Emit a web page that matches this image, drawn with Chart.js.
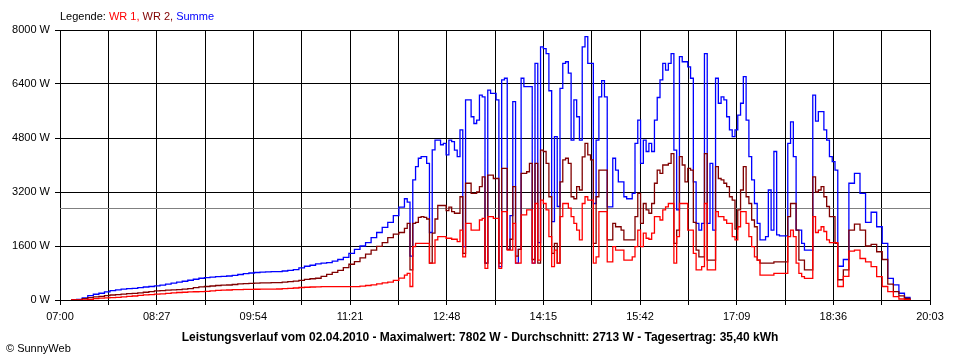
<!DOCTYPE html>
<html>
<head>
<meta charset="utf-8">
<script src="https://cdn.jsdelivr.net/npm/chart.js@4.4.0/dist/chart.umd.min.js"></script>
<style>
  html, body { margin: 0; padding: 0; background: #fff; }
</style>
</head>
<body>
<canvas id="powerChart" width="960" height="360"></canvas>
<script>
// sample times in minutes after 07:00: [from, to, step]
// the logger is read more densely while clouds pass (10:10 .. 18:40)
const sampleSegments = [
    [10, 305, 5],
    [310, 700, 2.5],
    [705, 765, 5],
];
const dayStart = 7 * 60;
const dayLength = 783;   // 07:00 .. 20:03
const gridStep = 43.5;   // 19 vertical lines, every other one labelled

const yTicks = [0, 1600, 3200, 4800, 6400, 8000];
const averageW = 2713;

const legendParts = [
    ['Legende: ', '#000000'],
    ['WR 1, ', '#ff0000'],
    ['WR 2, ', '#800000'],
    ['Summe', '#0000ff'],
];
const footerText = 'Leistungsverlauf vom 02.04.2010 - Maximalwert: 7802 W - Durchschnitt: 2713 W - Tagesertrag: 35,40 kWh';
const copyrightText = '\u00A9 SunnyWeb';

const wr1 = [
    // 07:10 .. 12:05, every 5 min
    0, 0, 0, 20, 40, 55, 65, 69, 80, 95,
    110, 119, 135, 150, 160, 175, 180, 195, 210, 222,
    230, 240, 245, 248, 255, 270, 285, 295, 296, 305,
    310, 316, 316, 318, 320, 322, 324, 326, 335, 345,
    355, 370, 378, 385, 390, 395, 395, 395, 395, 395,
    395, 395, 410, 430, 450, 480, 505, 530, 580, 650,
    // 12:10 .. 18:40, every 2.5 min
    740, 790, 400, 1580, 1680, 1680, 1680, 1680, 1680, 1090,
    1090, 1780, 1880, 1880, 1880, 1830, 1830, 1800, 1800, 1730,
    2070, 1280, 2270, 2270, 2070, 2070, 2070, 2370, 2420, 940,
    2470, 2470, 2420, 2420, 940, 2620, 2620, 1480, 1480, 2270,
    1090, 1090, 2520, 2520, 2670, 2670, 1090, 2860, 1180, 2960,
    2860, 2670, 1880, 990, 1480, 1090, 2470, 2860, 2860, 2720,
    2470, 2270, 2070, 1780, 2860, 3060, 2960, 2960, 1090, 1280,
    2620, 2620, 2620, 1130, 1130, 1580, 1480, 1480, 1480, 1180,
    1180, 1180, 1280, 1580, 2070, 1580, 1980, 1830, 1800, 1980,
    2470, 2470, 2370, 2670, 2760, 2860, 2860, 1090, 1880, 2860,
    2860, 2860, 2070, 2070, 1380, 890, 890, 990, 2860, 890,
    890, 890, 2620, 2470, 2470, 2370, 2270, 2270, 1880, 1780,
    2170, 2620, 2620, 2270, 1880, 1580, 1280, 1180, 740, 740,
    740, 740, 740, 790, 790, 790, 790, 790, 1880, 2070,
    1880, 1090, 790, 690, 640, 640, 640, 2470, 2000, 2070,
    2170, 2030, 1780, 1700, 1700, 1700, 400,
    // 18:45 .. 19:45, every 5 min
    700, 1450, 1480, 1230, 1130, 990, 690, 400, 250, 100,
    30, 10, 0,
];

const wr2 = [
    0, 0, 40, 70, 90, 110, 130, 148, 160, 175,
    190, 197, 210, 230, 250, 270, 280, 290, 300, 310,
    320, 340, 365, 390, 400, 415, 430, 440, 444, 460,
    475, 485, 494, 500, 505, 510, 514, 514, 530, 545,
    560, 580, 610, 630, 645, 700, 760, 820, 880, 960,
    1060, 1140, 1250, 1360, 1480, 1590, 1700, 1850, 1950, 2000,

    2120, 2270, 890, 2270, 2300, 2450, 2470, 2450, 2400, 1090,
    1980, 2400, 2800, 2800, 2800, 2650, 2750, 2620, 2570, 2570,
    3060, 1380, 3460, 3460, 3160, 3160, 3200, 3360, 3650, 1090,
    3700, 3700, 3600, 3600, 1090, 3900, 3900, 1500, 1800, 3360,
    1300, 1500, 3750, 3750, 3800, 4050, 1200, 4050, 1090, 4440,
    4400, 4050, 3060, 1380, 1680, 1090, 3500, 4150, 4200, 4050,
    3060, 3000, 3360, 3260, 4240, 4640, 4300, 4150, 1680, 3060,
    3850, 3850, 3850, 1780, 1780, 2270, 2170, 2170, 2070, 1780,
    1780, 1780, 1780, 2470, 3160, 2270, 2860, 2670, 2570, 2860,
    3460, 3850, 3750, 4000, 4000, 4050, 4340, 1680, 2070, 4250,
    4000, 3500, 3900, 3850, 2300, 1480, 1280, 1280, 4340, 1180,
    1180, 1180, 3950, 3600, 3560, 3460, 3360, 3060, 2960, 2100,
    2670, 3260, 3950, 3060, 2860, 2370, 2170, 1180, 1090, 1090,
    1090, 1090, 1090, 1130, 1130, 1130, 1130, 1130, 2470, 2860,
    2860, 2070, 1180, 1180, 890, 890, 890, 3650, 3200, 3260,
    3360, 3060, 2770, 2470, 2470, 1680, 600,

    890, 2070, 2250, 2070, 1600, 1650, 1430, 1200, 470, 250,
    120, 50, 0,
];

const summe = [
    0, 20, 60, 130, 170, 200, 240, 277, 300, 320,
    335, 346, 365, 385, 400, 420, 440, 470, 500, 530,
    555, 585, 615, 645, 665, 680, 690, 700, 711, 730,
    755, 780, 800, 815, 825, 835, 840, 840, 860, 880,
    900, 950, 1000, 1030, 1070, 1090, 1110, 1150, 1200, 1264,
    1380, 1500, 1600, 1700, 1850, 2000, 2150, 2300, 2500, 2750,

    3000, 2900, 1300, 3560, 3950, 4200, 4250, 4250, 4050, 2000,
    4450, 4740, 4740, 4600, 4640, 4300, 4740, 4690, 4440, 4250,
    5040, 1580, 5930, 5930, 5430, 5230, 5330, 6070, 6020, 1090,
    6220, 6120, 6120, 5930, 990, 6520, 6570, 1500, 2500, 5880,
    1090, 1500, 6570, 6320, 6320, 6320, 1090, 7010, 1700, 7500,
    7450, 7300, 6200, 2320, 4840, 2770, 6270, 7010, 7060, 6720,
    4740, 5930, 5430, 4740, 7500, 7802, 7010, 7010, 2860, 4740,
    6020, 6500, 6020, 2760, 2760, 4200, 3850, 3500, 3500, 3060,
    3000, 3000, 3160, 4640, 5330, 4050, 4740, 4400, 4640, 4400,
    5330, 6000, 6520, 7010, 6810, 7010, 7300, 4440, 2670, 7210,
    7060, 7060, 6910, 6570, 3500, 2270, 2070, 2270, 7300, 2270,
    4050, 2070, 6570, 5830, 6020, 5930, 5430, 5040, 4840, 5040,
    5480, 5830, 6620, 5330, 4250, 3560, 2860, 2270, 1780, 1780,
    1880, 3260, 2070, 4400, 1930, 1900, 1900, 1900, 4640, 5280,
    4250, 2070, 2070, 1680, 1480, 1480, 1480, 6070, 5300, 5580,
    5580, 5040, 4740, 4250, 4100, 3850, 1000,

    1200, 3460, 3750, 3160, 2300, 2600, 2170, 1680, 640, 450,
    200, 80, 0,
];

const times = [];
sampleSegments.forEach(([from, to, step]) => {
    for (let t = from; t <= to + 0.001; t += step) {
        times.push(t);
    }
});
const toPoints = (values) => values.map((v, i) => ({ x: times[i], y: v }));

function formatTime(minutes) {
    const total = dayStart + Math.round(minutes);
    const hh = String(Math.floor(total / 60)).padStart(2, '0');
    const mm = String(total % 60).padStart(2, '0');
    return `${hh}:${mm}`;
}

const fontFamily = '"Liberation Sans", Arial, sans-serif';

const decorations = {
    id: 'decorations',
    beforeDatasetsDraw(chart) {
        const { ctx, chartArea, scales } = chart;
        const y = Math.round(scales.y.getPixelForValue(averageW)) + 0.5;
        ctx.save();
        ctx.strokeStyle = '#808080';
        ctx.lineWidth = 1;
        ctx.beginPath();
        ctx.moveTo(chartArea.left, y);
        ctx.lineTo(chartArea.right, y);
        ctx.stroke();
        ctx.restore();
    },
    afterDraw(chart) {
        const { ctx } = chart;
        ctx.save();
        ctx.textBaseline = 'alphabetic';
        ctx.font = `11px ${fontFamily}`;
        let x = 60;
        legendParts.forEach(([text, color]) => {
            ctx.fillStyle = color;
            ctx.fillText(text, x, 20);
            x += ctx.measureText(text).width;
        });

        ctx.fillStyle = '#000';
        ctx.font = `bold 12px ${fontFamily}`;
        ctx.textAlign = 'center';
        ctx.fillText(footerText, 480, 341);

        ctx.font = `11px ${fontFamily}`;
        ctx.textAlign = 'left';
        ctx.fillText(copyrightText, 6, 352);
        ctx.restore();
    },
};

const lineStyle = {
    borderWidth: 1.3,
    pointRadius: 0,
    fill: false,
    stepped: true,
};

new Chart(document.getElementById('powerChart'), {
    type: 'line',
    data: {
        datasets: [
            { label: 'WR 1', data: toPoints(wr1), borderColor: '#ff0000', ...lineStyle },
            { label: 'WR 2', data: toPoints(wr2), borderColor: '#800000', ...lineStyle },
            { label: 'Summe', data: toPoints(summe), borderColor: '#0000ff', ...lineStyle },
        ],
    },
    options: {
        responsive: false,
        animation: false,
        layout: { padding: { top: 30, right: 30, bottom: 0, left: 0 } },
        plugins: {
            legend: { display: false },
            tooltip: { enabled: false },
        },
        scales: {
            x: {
                type: 'linear',
                min: 0,
                max: dayLength,
                afterBuildTicks: (scale) => {
                    const ticks = [];
                    for (let i = 0; i * gridStep <= dayLength + 0.01; i++) {
                        ticks.push({ value: i * gridStep });
                    }
                    scale.ticks = ticks;
                },
                afterFit: (scale) => { scale.height = 60; },
                grid: { color: '#000', lineWidth: 1, tickLength: 5, drawTicks: true },
                border: { color: '#000' },
                ticks: {
                    autoSkip: false,
                    maxRotation: 0,
                    padding: 5,
                    color: '#000',
                    font: { family: fontFamily, size: 11 },
                    callback: (value, index) => (index % 2 === 0 ? formatTime(value) : ''),
                },
            },
            y: {
                min: 0,
                max: 8000,
                afterBuildTicks: (scale) => {
                    scale.ticks = yTicks.map((v) => ({ value: v }));
                },
                afterFit: (scale) => { scale.width = 60; },
                grid: { color: '#000', lineWidth: 1, tickLength: 5 },
                border: { color: '#000' },
                ticks: {
                    padding: 5,
                    color: '#000',
                    font: { family: fontFamily, size: 11 },
                    callback: (value) => `${value} W`,
                },
            },
        },
    },
    plugins: [decorations],
});
</script>
</body>
</html>
